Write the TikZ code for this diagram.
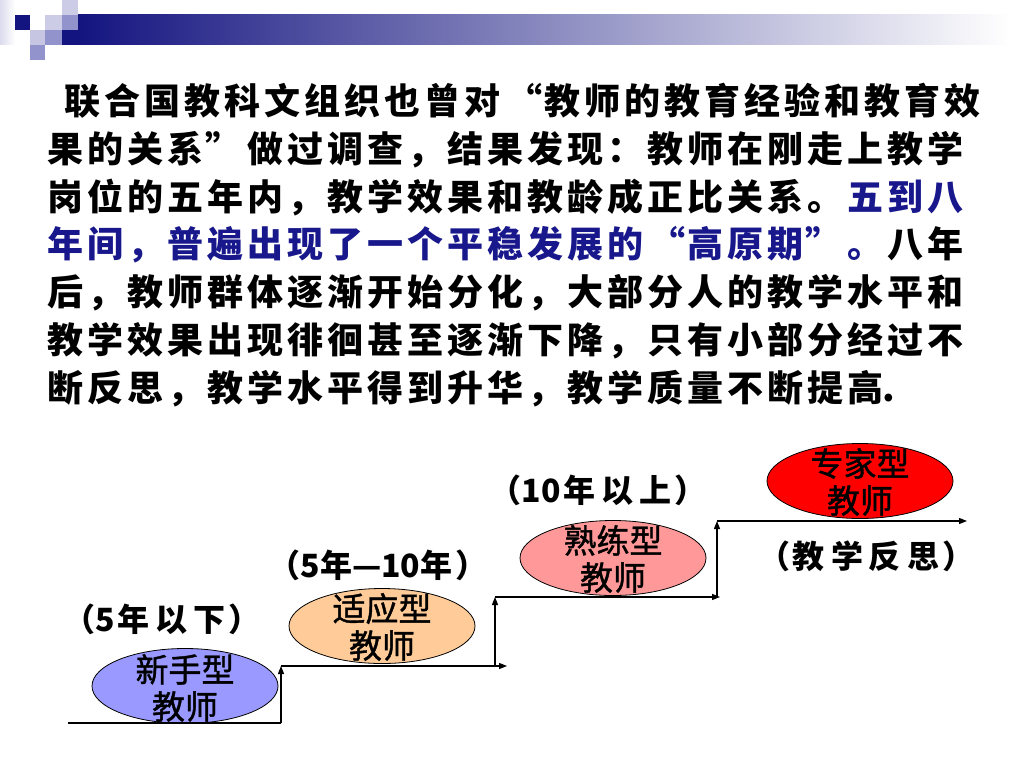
\documentclass[tikz,border=0pt]{standalone}
\usepackage{fontspec}
\newfontfamily\cjk{Noto Sans CJK SC}
\newfontfamily\cjkm{Noto Sans CJK SC}[FakeBold=1.2]
\usetikzlibrary{arrows.meta,shapes.geometric}
\definecolor{navy}{RGB}{20,20,128}
\definecolor{txtblue}{RGB}{24,24,140}
\definecolor{sqlight}{RGB}{204,204,230}
\definecolor{sqmid}{RGB}{146,146,204}
\definecolor{barmid}{RGB}{150,150,180}
\definecolor{fnovice}{RGB}{153,153,255}
\definecolor{fadapt}{RGB}{255,204,153}
\definecolor{fskill}{RGB}{255,153,153}
\definecolor{fexpert}{RGB}{255,0,0}
\newlength\cw \setlength\cw{40pt}
\def\cjkrow#1{\cjkloop#1\relax}
\def\cjkloop#1{\ifx\relax#1\else\makebox[\cw]{#1}\expandafter\cjkloop\fi}
\def\lpar{\makebox[13pt][r]{（}}
\def\rpar{\makebox[13pt][l]{）}}
\tikzset{
  para/.style={anchor=west,inner sep=0pt,text height=31pt,text depth=5pt,
    font=\cjk\bfseries\fontsize{36pt}{40pt}\selectfont},
  stage/.style={ellipse,draw=black,line width=0.8pt,minimum width=186pt,
    minimum height=75pt,inner sep=0pt},
  etext/.style={align=center,inner sep=0pt,
    font=\cjkm\fontsize{33pt}{37pt}\selectfont},
  yrs/.style={inner sep=0pt,font=\cjk\bfseries\fontsize{32pt}{34pt}\selectfont\setlength\cw{38pt}},
  stair/.style={line width=1.2pt,draw=black},
  stairarrow/.style={stair,-{Triangle[length=8pt,width=6pt]}}
}
\begin{document}
\begin{tikzpicture}[x=1pt,y=-1pt]
\useasboundingbox (0,0) rectangle (1024,768);
\fill[white] (0,0) rectangle (1024,768);
% header decoration
\shade[left color=sqlight!70,right color=white] (0,0) rectangle (15,45);
\fill[sqlight] (62,0) rectangle (78,15);
\fill[navy] (15,15) rectangle (30,30);
\fill[sqlight] (45,15) rectangle (62,30);
\fill[sqmid] (62,15) rectangle (78,30);
\fill[sqlight!90!sqmid] (30,30) rectangle (45,45);
\fill[sqmid] (45,30) rectangle (62,45);
\fill[navy] (62,30) rectangle (78,45);
\fill[sqmid] (30,45) rectangle (45,60);
\shade[left color=navy,middle color=barmid,right color=white] (78,15) rectangle (1010,45);
% paragraph
\node[para] (r1) at (62,101.5) {\cjkrow{联合国教科文组织也曾对}\makebox[\cw][r]{“}\cjkrow{教师的教育经验和教育效}};
\node[para] (r2) at (45,149.3) {\cjkrow{果的关系}\makebox[\cw][l]{”}\cjkrow{做过调查，结果发现：教师在刚走上教学}};
\node[para] (r3) at (45,197.1) {\cjkrow{岗位的五年内，教学效果和教龄成正比关系。}\textcolor{txtblue}{\cjkrow{五到八}}};
\node[para] (r4) at (45,244.9) {\textcolor{txtblue}{\cjkrow{年间，普遍出现了一个平稳发展的}\makebox[\cw][r]{“}\cjkrow{高原期}\makebox[\cw][l]{”}\cjkrow{。}}\cjkrow{八年}};
\node[para] (r5) at (45,292.7) {\cjkrow{后，教师群体逐渐开始分化，大部分人的教学水平和}};
\node[para] (r6) at (45,340.5) {\cjkrow{教学效果出现徘徊甚至逐渐下降，只有小部分经过不}};
\node[para] (r7) at (45,388.3) {\cjkrow{断反思，教学水平得到升华，教学质量不断提高}\hspace{-3pt}.};
% stage ellipses
\node[stage,fill=fnovice] (e1) at (185,686) {};
\node[stage,fill=fadapt] (e2) at (382,626) {};
\node[stage,fill=fskill] (e3) at (613,558) {};
\node[stage,fill=fexpert] (e4) at (860,481) {};
% staircase
\coordinate (s0) at (68,723);
\coordinate (s1) at (281,723);
\coordinate (s2) at (281,666);
\coordinate (s3) at (507,666);
\coordinate (s4) at (495,666);
\coordinate (s5) at (495,597);
\coordinate (s6) at (720,597);
\coordinate (s7) at (717,597);
\coordinate (s8) at (717,521);
\coordinate (s9) at (967,521);
\draw[stair] (s0) -- (s1);
\draw[stairarrow] (s1) -- (s2);
\draw[stairarrow] (s2) -- (s3);
\draw[stairarrow] (s4) -- (s5);
\draw[stairarrow] (s5) -- (s6);
\draw[stairarrow] (s7) -- (s8);
\draw[stairarrow] (s8) -- (s9);
% ellipse texts
\node[etext] (t1) at (185,688) {新手型\\教师};
\node[etext] (t2) at (382,627) {适应型\\教师};
\node[etext] (t3) at (613,559) {熟练型\\教师};
\node[etext] (t4) at (860,482) {专家型\\教师};
% period labels
\node[yrs] (l1) at (162,619) {\lpar 5\cjkrow{年以下}\rpar};
\node[yrs] (l2) at (378,565) {\lpar 5年—10年\hspace{3pt}\rpar};
\node[yrs] (l3) at (598,490) {\lpar 10\cjkrow{年以上}\rpar};
\node[yrs] (l4) at (866,556) {\lpar\cjkrow{教学反思}\rpar};
\end{tikzpicture}
\end{document}
